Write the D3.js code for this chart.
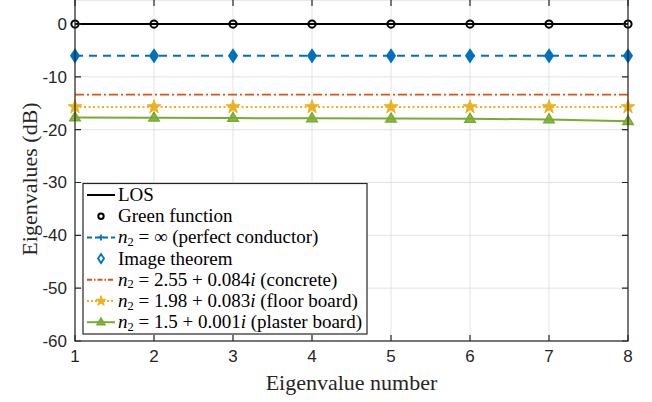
<!DOCTYPE html>
<html>
<head>
<meta charset="utf-8">
<script src="https://cdn.jsdelivr.net/npm/d3@7"></script>
<style>
  body { margin: 0; background: #fff; }
  svg { display: block; }
</style>
</head>
<body>
<div id="chart"></div>
<script>

// data
const eigNumber = [1, 2, 3, 4, 5, 6, 7, 8];
const losValues = [0, 0, 0, 0, 0, 0, 0, 0];
const greenValues = [0, 0, 0, 0, 0, 0, 0, 0];
const perfectValues = [-6.02, -6.02, -6.02, -6.02, -6.02, -6.02, -6.02, -6.02];
const imageValues = [-6.02, -6.02, -6.02, -6.02, -6.02, -6.02, -6.02, -6.02];
const concreteValues = [-13.35, -13.35, -13.35, -13.35, -13.35, -13.35, -13.35, -13.35];
const floorValues = [-15.7, -15.7, -15.7, -15.7, -15.7, -15.7, -15.7, -15.7];
const plasterValues = [-17.7, -17.75, -17.8, -17.85, -17.9, -17.95, -18.05, -18.4];
const yTicks = [0, -10, -20, -30, -40, -50, -60];

const width = 652;
const height = 402;
const margin = { left: 75, right: 24, top: 0, bottom: 61 };

const x = d3.scaleLinear()
  .domain([1, 8])
  .range([margin.left, width - margin.right]);

const y = d3.scaleLinear()
  .domain([-60, 4.55])
  .range([height - margin.bottom, margin.top]);

const svg = d3.select('#chart')
  .append('svg')
  .attr('width', width)
  .attr('height', height);

const axisColor = '#262626';
const gridColor = '#e3e3e3';

//grid
svg.append('g')
  .selectAll('line')
  .data(eigNumber)
  .enter()
  .append('line')
  .attr('x1', d => x(d)).attr('x2', d => x(d))
  .attr('y1', y.range()[0]).attr('y2', y.range()[1])
  .attr('stroke', gridColor)
  .attr('stroke-width', 1);

svg.append('g')
  .selectAll('line')
  .data(yTicks)
  .enter()
  .append('line')
  .attr('x1', x.range()[0]).attr('x2', x.range()[1])
  .attr('y1', d => y(d)).attr('y2', d => y(d))
  .attr('stroke', gridColor)
  .attr('stroke-width', 1);

// series
const series = [
  { values: losValues, color: '#000000', dash: null, width: 2, marker: null },
  { values: perfectValues, color: '#0072BD', dash: '8,6', width: 2, marker: 'plus' },
  { values: concreteValues, color: '#D95319', dash: '9,3,2,3', width: 1.8, marker: null },
  { values: floorValues, color: '#EDB120', dash: '2,2.5', width: 2, marker: 'star' },
  { values: plasterValues, color: '#77AC30', dash: null, width: 2, marker: 'triangle' }
];

const line = d3.line()
  .x((d, i) => x(eigNumber[i]))
  .y(d => y(d));

series.forEach(s => {
  svg.append('path')
    .datum(s.values)
    .attr('fill', 'none')
    .attr('stroke', s.color)
    .attr('stroke-width', s.width)
    .attr('stroke-dasharray', s.dash)
    .attr('d', line);
});

function drawMarker(g, type, cx, cy, color, scale = 1) {
  if (type === 'circle') {
    g.append('circle')
      .attr('cx', cx).attr('cy', cy).attr('r', 3.6 * scale)
      .attr('fill', 'none').attr('stroke', color).attr('stroke-width', 2);
  } else if (type === 'plus') {
    const r = 4 * scale;
    g.append('path')
      .attr('d', `M${cx - r},${cy}H${cx + r}M${cx},${cy - r}V${cy + r}`)
      .attr('stroke', color).attr('stroke-width', 1.8);
  } else if (type === 'diamond') {
    const w = 4 * scale, h = 6 * scale;
    g.append('path')
      .attr('d', `M${cx},${cy - h}L${cx + w},${cy}L${cx},${cy + h}L${cx - w},${cy}Z`)
      .attr('fill', scale === 1 ? color : 'none').attr('stroke', color).attr('stroke-width', 1.8);
  } else if (type === 'star') {
    const sym = d3.symbol().type(d3.symbolStar).size(58 * scale * scale);
    g.append('path')
      .attr('transform', `translate(${cx},${cy})`)
      .attr('d', sym())
      .attr('fill', color).attr('stroke', color).attr('stroke-width', 1);
  } else if (type === 'triangle') {
    const r = 5.5 * scale;
    g.append('path')
      .attr('d', `M${cx},${cy - r}L${cx + r * 0.95},${cy + r * 0.6}L${cx - r * 0.95},${cy + r * 0.6}Z`)
      .attr('fill', color).attr('fill-opacity', 0.85).attr('stroke', color).attr('stroke-width', 1.5);
  }
}

const markers = svg.append('g');
eigNumber.forEach((n, i) => {
  drawMarker(markers, 'circle', x(n), y(greenValues[i]), '#000000');
  drawMarker(markers, 'diamond', x(n), y(imageValues[i]), '#0072BD');
  drawMarker(markers, 'plus', x(n), y(perfectValues[i]), '#0072BD');
  drawMarker(markers, 'star', x(n), y(floorValues[i]), '#EDB120');
  drawMarker(markers, 'triangle', x(n), y(plasterValues[i]), '#77AC30');
});

// axes box
const x0 = x.range()[0], x1 = x.range()[1];
const y0 = y.range()[0], y1 = y.range()[1];
svg.append('rect')
  .attr('x', x0).attr('y', y1 - 0.5)
  .attr('width', x1 - x0).attr('height', y0 - y1 + 0.5)
  .attr('fill', 'none').attr('stroke', axisColor).attr('stroke-width', 1.2);

const tickLen = 6;
svg.append('g')
  .selectAll('path')
  .data(eigNumber)
  .enter()
  .append('path')
  .attr('d', d => `M${x(d)},${y0}v${-tickLen}M${x(d)},${y1}v${tickLen}`)
  .attr('stroke', axisColor).attr('stroke-width', 1.2);

svg.append('g')
  .selectAll('path')
  .data(yTicks)
  .enter()
  .append('path')
  .attr('d', d => `M${x0},${y(d)}h${tickLen}M${x1},${y(d)}h${-tickLen}`)
  .attr('stroke', axisColor).attr('stroke-width', 1.2);

// tick labels
svg.append('g')
  .selectAll('text')
  .data(eigNumber)
  .enter()
  .append('text')
  .attr('x', d => x(d))
  .attr('y', y0 + 21)
  .attr('text-anchor', 'middle')
  .attr('font-family', 'Liberation Sans, Arial, sans-serif')
  .attr('font-size', '17px')
  .attr('fill', axisColor)
  .text(d => d);

svg.append('g')
  .selectAll('text')
  .data(yTicks)
  .enter()
  .append('text')
  .attr('x', x0 - 8)
  .attr('y', d => y(d))
  .attr('dy', '0.35em')
  .attr('text-anchor', 'end')
  .attr('font-family', 'Liberation Sans, Arial, sans-serif')
  .attr('font-size', '17px')
  .attr('fill', axisColor)
  .text(d => d);

// axis titles
svg.append('text')
  .attr('x', (x0 + x1) / 2)
  .attr('y', 390)
  .attr('text-anchor', 'middle')
  .attr('font-family', 'Liberation Serif, serif')
  .attr('font-size', '22px')
  .attr('fill', axisColor)
  .text('Eigenvalue number');

svg.append('text')
  .attr('transform', `translate(37, 179) rotate(-90)`)
  .attr('text-anchor', 'middle')
  .attr('font-family', 'Liberation Serif, serif')
  .attr('font-size', '22px')
  .attr('fill', axisColor)
  .text('Eigenvalues (dB)');

// legend
const legendItems = [
  { color: '#000000', dash: null, marker: null, parts: [['LOS']] },
  { color: '#000000', dash: 'none', marker: 'circle', parts: [['Green function']] },
  { color: '#0072BD', dash: '5,3', marker: 'plus', parts: [['n', 'i'], ['2', 's'], [' = ∞ (perfect conductor)']] },
  { color: '#0072BD', dash: 'none', marker: 'diamond', parts: [['Image theorem']] },
  { color: '#D95319', dash: '5,2,1.5,2', marker: null, parts: [['n', 'i'], ['2', 's'], [' = 2.55 + 0.084'], ['i', 'i'], [' (concrete)']] },
  { color: '#EDB120', dash: '2,2', marker: 'star', parts: [['n', 'i'], ['2', 's'], [' = 1.98 + 0.083'], ['i', 'i'], [' (floor board)']] },
  { color: '#77AC30', dash: null, marker: 'triangle', parts: [['n', 'i'], ['2', 's'], [' = 1.5 + 0.001'], ['i', 'i'], [' (plaster board)']] }
];

const legend = svg.append('g');
legend.append('rect')
  .attr('x', 83).attr('y', 183.5)
  .attr('width', 284).attr('height', 150.5)
  .attr('fill', '#ffffff').attr('stroke', axisColor).attr('stroke-width', 1.2);

legendItems.forEach((item, i) => {
  const ly = 195 + i * 21.2;
  if (item.dash !== 'none') {
    legend.append('line')
      .attr('x1', 87).attr('x2', 115)
      .attr('y1', ly).attr('y2', ly)
      .attr('stroke', item.color).attr('stroke-width', 2)
      .attr('stroke-dasharray', item.dash);
  }
  if (item.marker) drawMarker(legend, item.marker, 101, ly, item.color, 0.75);

  const t = legend.append('text')
    .attr('x', 118)
    .attr('y', ly + 6)
    .attr('font-family', 'Liberation Serif, serif')
    .attr('font-size', '19px')
    .attr('fill', '#000');
  item.parts.forEach((p, k) => {
    const span = t.append('tspan').text(p[0]);
    if (p[1] === 'i') span.attr('font-style', 'italic');
    if (p[1] === 's') span.attr('font-size', '12.5px').attr('dy', 2.5);
    if (p[1] !== 's' && k > 0 && item.parts[k - 1][1] === 's') span.attr('dy', -2.5);
  });
});

</script>
</body>
</html>
